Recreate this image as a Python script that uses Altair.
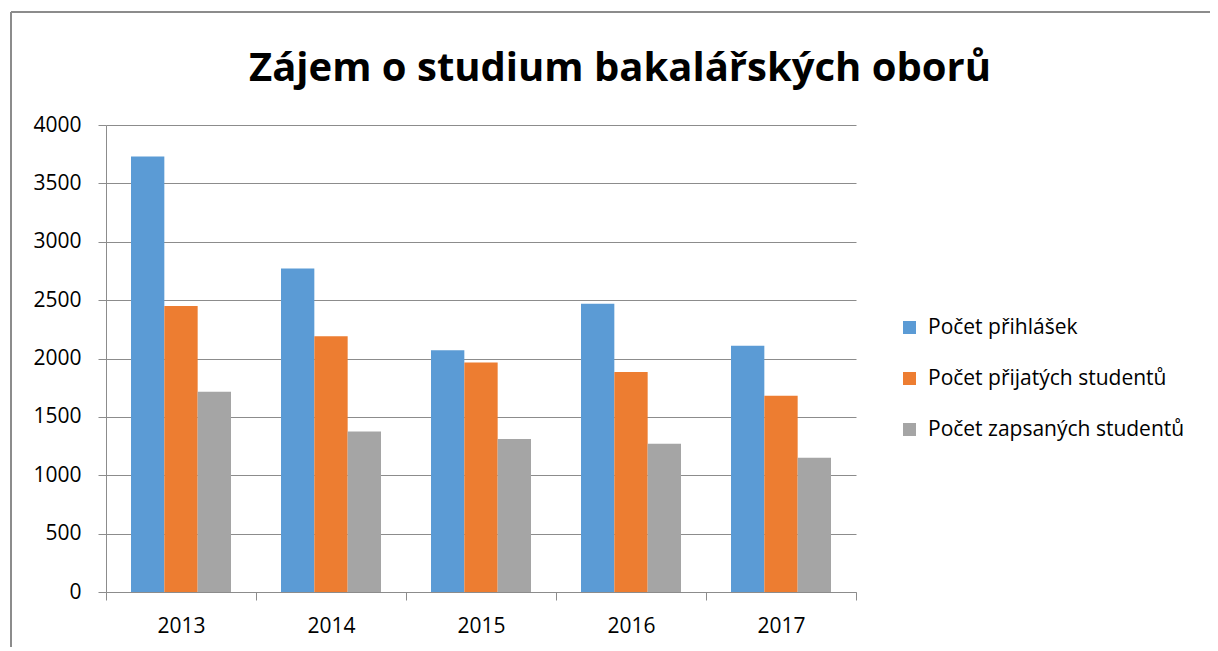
import altair as alt
import pandas as pd

years = ["2013", "2014", "2015", "2016", "2017"]
series = ["Počet přihlášek", "Počet přijatých studentů", "Počet zapsaných studentů"]
prihlasky = [3730, 2770, 2070, 2470, 2110]
prijati = [2450, 2190, 1965, 1885, 1680]
zapsani = [1715, 1375, 1310, 1270, 1150]
colors = ["#5B9BD5", "#ED7D31", "#A5A5A5"]
y_ticks = [0, 500, 1000, 1500, 2000, 2500, 3000, 3500, 4000]
title_text = "Zájem o studium bakalářských oborů"

rows = []
for s, vals in zip(series, [prihlasky, prijati, zapsani]):
    for yr, v in zip(years, vals):
        rows.append({"rok": yr, "serie": s, "hodnota": v})
df = pd.DataFrame(rows)

FONT = "Open Sans"
GRAY = "#8C8C8C"
FS = 21

bars = alt.Chart(df).mark_bar().encode(
    x=alt.X(
        "rok:N", sort=years,
        scale=alt.Scale(paddingInner=0, paddingOuter=0),
        axis=alt.Axis(title=None, tickBand="extent", labelAngle=0, tickSize=8,
                      labelPadding=15, domainColor=GRAY, tickColor=GRAY,
                      labelFont=FONT, labelFontSize=FS, labelColor="#000000",
                      grid=False),
    ),
    xOffset=alt.XOffset("serie:N", sort=series,
                        scale=alt.Scale(paddingInner=0, paddingOuter=0.75)),
    y=alt.Y(
        "hodnota:Q",
        scale=alt.Scale(domain=[0, 4000], nice=False),
        axis=alt.Axis(title=None, values=y_ticks, format="d", tickSize=8,
                      labelPadding=17, domainColor=GRAY, tickColor=GRAY,
                      gridColor=GRAY, labelFont=FONT, labelFontSize=FS,
                      labelColor="#000000", grid=True),
    ),
    color=alt.Color(
        "serie:N", sort=series,
        scale=alt.Scale(domain=series, range=colors),
        legend=alt.Legend(title=None, orient="none", legendX=793, legendY=192,
                          symbolType="square", symbolSize=170,
                          symbolStrokeWidth=0, labelFont=FONT,
                          labelFontSize=FS, labelColor="#000000",
                          labelOffset=8, rowPadding=29, labelLimit=400),
    ),
)

frame_left = alt.Chart(df).mark_rule(color=GRAY, strokeWidth=1.5).encode(
    x=alt.value(-95), y=alt.value(-113), y2=alt.value(540)
)
frame_top = alt.Chart(df).mark_rule(color=GRAY, strokeWidth=1.5).encode(
    x=alt.value(-95), x2=alt.value(1104), y=alt.value(-113)
)

chart = alt.layer(frame_left, frame_top, bars).properties(
    width=750,
    height=467,
    autosize=alt.AutoSizeParams(type="none"),
    padding={"left": 98, "top": 117, "right": 354, "bottom": 55},
    title=alt.TitleParams(title_text, font=FONT, fontSize=40, fontWeight="bold",
                          color="#000000", anchor="middle", dx=139, dy=148,
                          baseline="alphabetic", offset=38),
).configure_view(stroke=None)

chart.save("out.html", embed_options={"renderer": "svg", "actions": False})
